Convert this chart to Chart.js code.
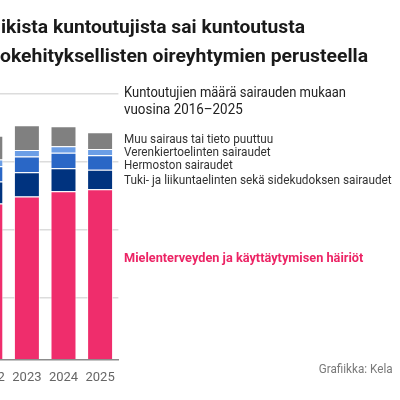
<!DOCTYPE html>
<html lang="fi">
<head>
  <meta charset="UTF-8" />
  <title>Kuntoutujat sairauden mukaan</title>
  <script src="https://cdn.jsdelivr.net/npm/chart.js"></script>
  <style>
    body {
      margin: 0;
      padding: 0;
      background: #fff;
    }

    #wrap {
      position: relative;
      width: 400px;
      height: 400px;
      overflow: hidden;
      background: #fff;
    }

    #chart {
      position: absolute;
      left: -28px;
      top: 0;
    }

    #texts {
      position: absolute;
      left: 0;
      top: 0;
      pointer-events: none;
    }
  </style>
</head>
<body>
  <div id="wrap">
    <canvas id="chart" width="428" height="400"></canvas>
    <canvas id="texts" width="400" height="400"></canvas>
  </div>

  <script>
    // Vuodet (näkyvissä oleva osa)
    const years = ["2022", "2023", "2024", "2025"];

    // Kuntoutujien määrä (arvioitu kuvasta)
    const mielenterveys = [2385, 2488, 2565, 2595];
    const tukiLiikunta = [324, 357, 338, 288];
    const hermosto = [225, 231, 228, 212];
    const verenkierto = [97, 96, 96, 91];
    const muu = [351, 363, 294, 246];

    // Apuviivat
    const yTicks = [1000, 2000, 3000, 4000];

    // Tekstin sovitus annettuun leveyteen
    function fitText(ctx, txt, x, y, w, font, color) {
      ctx.font = font;
      const m = ctx.measureText(txt).width;
      ctx.save();
      ctx.translate(x, y);
      ctx.scale(w / m, 1);
      ctx.fillStyle = color;
      ctx.textBaseline = "alphabetic";
      ctx.textAlign = "left";
      ctx.fillText(txt, 0, 0);
      ctx.restore();
    }

    const seg = (label, data, color) => ({
      label,
      data,
      backgroundColor: color,
      borderColor: "rgba(255,255,255,0.7)",
      borderWidth: { top: 1, left: 1, right: 1, bottom: 0 },
      borderSkipped: "start",
      barPercentage: 0.71,
      categoryPercentage: 1
    });

    new Chart(document.getElementById("chart"), {
      type: "bar",
      data: {
        labels: years,
        datasets: [
          seg("Mielenterveyden ja käyttäytymisen häiriöt", mielenterveys, "#ef2d6c"),
          seg("Tuki- ja liikuntaelinten sekä sidekudoksen sairaudet", tukiLiikunta, "#00337f"),
          seg("Hermoston sairaudet", hermosto, "#2a67c6"),
          seg("Verenkiertoelinten sairaudet", verenkierto, "#6b9ee6"),
          seg("Muu sairaus tai tieto puuttuu", muu, "#808080")
        ]
      },
      options: {
        responsive: false,
        animation: false,
        devicePixelRatio: 1,
        layout: {
          padding: { left: 0, right: 281.6, top: 93.7, bottom: 0 }
        },
        plugins: {
          legend: { display: false },
          tooltip: { enabled: false }
        },
        scales: {
          x: {
            stacked: true,
            grid: { display: false },
            border: { display: true, color: "#8c8c8c", width: 1.5, z: 1 },
            ticks: {
              color: "#666",
              font: { family: "Roboto", size: 13 },
              padding: 3,
              maxRotation: 0,
              autoSkip: false
            },
            afterFit: s => { s.height = 40.7; }
          },
          y: {
            stacked: true,
            min: 94,
            max: 4000,
            ticks: { display: false },
            border: { display: false },
            grid: { color: "#dcdcdc", lineWidth: 1.5, drawTicks: false },
            afterBuildTicks: s => { s.ticks = yTicks.map(v => ({ value: v })); },
            afterFit: s => { s.width = 0; }
          }
        }
      }
    });

    // Otsikko ja selitteet erilliselle kerrokselle
    const tctx = document.getElementById("texts").getContext("2d");
    const title = "bold 18px Roboto";
    const sub = "15px Roboto";
    const leg = "13px Roboto";
    fitText(tctx, "ikista kuntoutujista sai kuntoutusta", 1, 33.3, 304, title, "#1a1a1a");
    fitText(tctx, "okehityksellisten oireyhtymien perusteella", 0, 62.3, 368, title, "#1a1a1a");
    fitText(tctx, "Kuntoutujien määrä sairauden mukaan", 124, 97.3, 222, sub, "#222");
    fitText(tctx, "vuosina 2016–2025", 124, 114.3, 118.7, sub, "#222");
    fitText(tctx, "Muu sairaus tai tieto puuttuu", 124, 142.7, 149.3, leg, "#333");
    fitText(tctx, "Verenkiertoelinten sairaudet", 124, 155.5, 146.7, leg, "#333");
    fitText(tctx, "Hermoston sairaudet", 124, 168.7, 108.7, leg, "#333");
    fitText(tctx, "Tuki- ja liikuntaelinten sekä sidekudoksen sairaudet", 124, 184.3, 267.7, leg, "#333");
    fitText(tctx, "Mielenterveyden ja käyttäytymisen häiriöt", 124, 262.3, 239.3, "bold 13px Roboto", "#ec2465");
    fitText(tctx, "Grafiikka: Kela", 318.7, 373.3, 74, leg, "#7a7a7a");
  </script>
</body>
</html>
